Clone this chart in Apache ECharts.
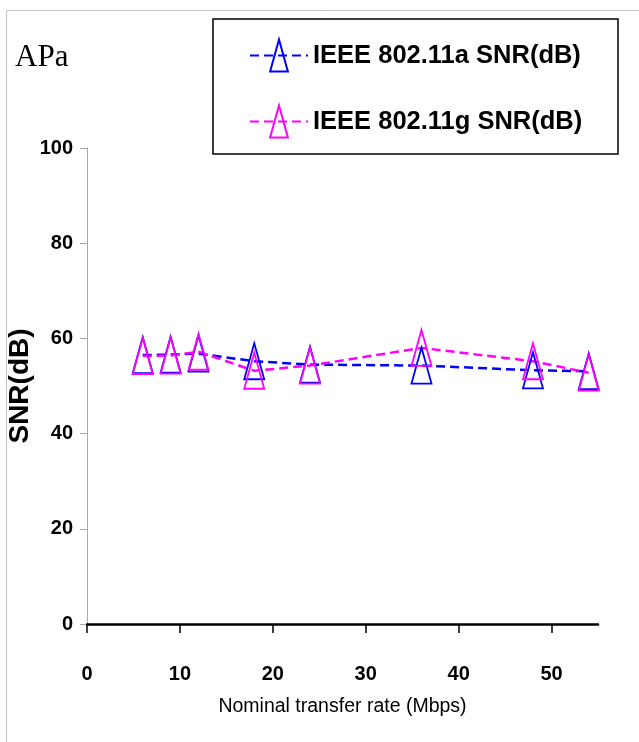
<!DOCTYPE html>
<html>
<head>
<meta charset="utf-8">
<title>APa SNR</title>
<script src="https://cdn.jsdelivr.net/npm/echarts@6/dist/echarts.min.js"></script>
<style>
  html, body { margin: 0; padding: 0; background: #fff; }
  #chart { width: 639px; height: 742px; }
</style>
</head>
<body>
<div id="chart"></div>
<script>
// nominal rates (Mbps) and measured SNR (dB)
var rates = [6, 9, 12, 18, 24, 36, 48, 54];
var snrA = [56.5, 56.6, 56.8, 55.2, 54.5, 54.3, 53.3, 53.1];
var snrG = [56.3, 56.4, 57.2, 53.2, 54.3, 58.0, 55.2, 52.8];
var xTicks = [0, 10, 20, 30, 40, 50];
var seriesNames = ["IEEE 802.11a SNR(dB)", "IEEE 802.11g SNR(dB)"];

var sans = "'Liberation Sans', Arial, sans-serif";
// tall open triangle inside a square box so the legend icon keeps its shape
var tri = "path://M0,0M36,36M18,0L28,36L8,36Z";

function pairs(xs, ys) {
  return xs.map(function (x, i) { return [x, ys[i]]; });
}

function makeSeries(name, values, color) {
  return {
    name: name,
    type: "line",
    data: pairs(rates, values),
    symbol: tri,
    symbolSize: 36,
    showAllSymbol: true,
    lineStyle: { color: color, width: 2.5, type: [9, 5] },
    itemStyle: { color: "none", borderColor: color, borderWidth: 1.8 },
    emphasis: { disabled: true },
    animation: false
  };
}

var myChart = echarts.init(document.getElementById("chart"));
myChart.setOption({
  backgroundColor: "#fff",
  title: {
    text: "APa",
    left: 15,
    top: 42,
    padding: 0,
    textStyle: { fontFamily: "'Liberation Serif', serif", fontSize: 31, fontWeight: "normal", color: "#000" }
  },
  graphic: [
    {
      type: "rect",
      shape: { x: 6.5, y: 10.5, width: 700, height: 800 },
      style: { fill: "none", stroke: "#c4c4c4", lineWidth: 1 },
      silent: true
    },
    {
      type: "rect",
      shape: { x: 213, y: 19, width: 405, height: 135 },
      style: { fill: "none", stroke: "#000", lineWidth: 1.5 },
      silent: true
    }
  ],
  legend: {
    orient: "vertical",
    left: 249,
    top: 37,
    padding: 0,
    itemWidth: 58,
    itemHeight: 40,
    itemGap: 29,
    data: seriesNames,
    textStyle: { fontFamily: sans, fontSize: 25.5, fontWeight: "bold", color: "#000" }
  },
  grid: { left: 87, right: 41, top: 148, bottom: 118, containLabel: false, outerBoundsMode: "none" },
  xAxis: {
    type: "value",
    min: 0,
    max: 55,
    name: "Nominal transfer rate (Mbps)",
    nameLocation: "middle",
    nameGap: 73,
    nameMoveOverlap: false,
    nameTextStyle: { fontFamily: sans, fontSize: 19.5, color: "#000" },
    axisLine: { lineStyle: { color: "#000", width: 2.5 } },
    axisTick: { show: true, length: 9, customValues: xTicks, lineStyle: { color: "#000", width: 1.5 } },
    axisLabel: {
      customValues: xTicks,
      margin: 40,
      fontFamily: sans,
      fontSize: 20,
      fontWeight: "bold",
      color: "#000"
    },
    splitLine: { show: false }
  },
  yAxis: {
    type: "value",
    min: 0,
    max: 100,
    interval: 20,
    name: "SNR(dB)",
    nameLocation: "middle",
    nameGap: 53,
    nameMoveOverlap: false,
    nameTextStyle: { fontFamily: sans, fontSize: 28, fontWeight: "bold", color: "#000" },
    axisLine: { show: true, lineStyle: { color: "#a8a8a8", width: 1 } },
    axisTick: { show: true, length: 7, lineStyle: { color: "#a8a8a8", width: 1 } },
    axisLabel: {
      margin: 14,
      fontFamily: sans,
      fontSize: 20,
      fontWeight: "bold",
      color: "#000"
    },
    splitLine: { show: false }
  },
  series: [
    makeSeries(seriesNames[0], snrA, "#0000ff"),
    makeSeries(seriesNames[1], snrG, "#ff00ff")
  ]
});

window.onresize = function () {
  myChart.resize();
};
</script>
</body>
</html>
